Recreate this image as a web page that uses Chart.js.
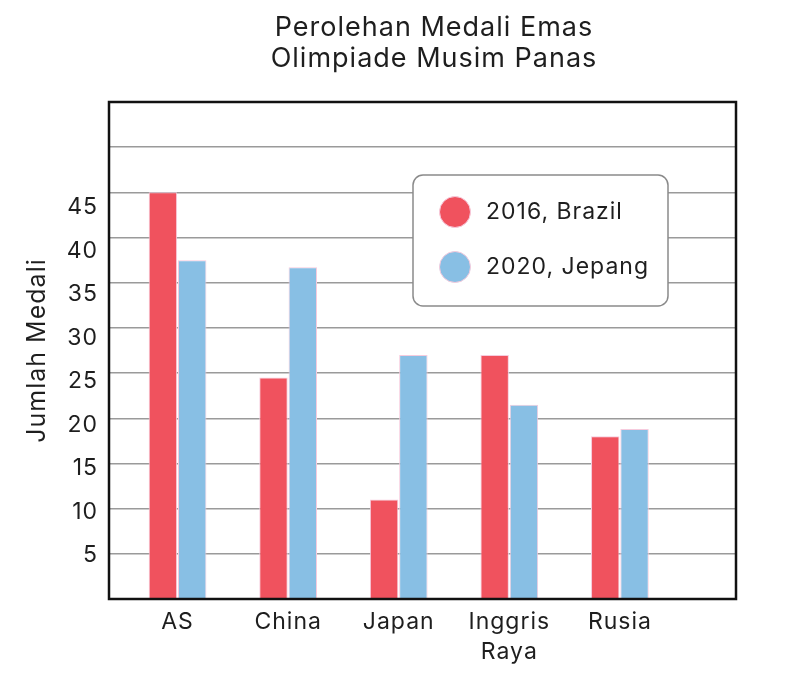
<!DOCTYPE html>
<html>
<head>
<meta charset="utf-8">
<script src="https://cdn.jsdelivr.net/npm/chart.js@4"></script>
<style>
  html, body { margin: 0; padding: 0; background: #fff; }
  #wrap { width: 800px; height: 678px; }
</style>
</head>
<body>
<div id="wrap"><canvas id="medalChart" width="800" height="678"></canvas></div>
<script>
// Data
const countries = ['AS', 'China', 'Japan', ['Inggris', 'Raya'], 'Rusia'];
const gold2016 = [45, 24.5, 11, 27, 18];
const gold2020 = [37.5, 36.7, 27, 21.5, 18.8];
const seriesNames = ['2016, Brazil', '2020, Jepang'];
const yTicks = [5, 10, 15, 20, 25, 30, 35, 40, 45];
const titleLines = ['Perolehan Medali Emas', 'Olimpiade Musim Panas'];

const FONT = "Inter, sans-serif";
const RED = '#F0525E';
const BLUE = '#88BFE4';
const EDGE = '#F6CBDD';

// The reference lettering is a little wider than Inter, so open it up
const spacingPlugin = {
    id: 'letterSpacing',
    beforeDraw(chart) {
        chart.ctx.letterSpacing = '1px';
    }
};

// Title drawn above the plot box, centred on it
const titlePlugin = {
    id: 'twoLineTitle',
    afterDraw(chart) {
        const ctx = chart.ctx;
        ctx.save();
        ctx.letterSpacing = '1px';
        ctx.fillStyle = '#1e1e1e';
        ctx.font = '27px ' + FONT;
        ctx.textAlign = 'center';
        ctx.textBaseline = 'alphabetic';
        titleLines.forEach((line, i) => ctx.fillText(line, 434, 36 + i * 31));
        ctx.restore();
    }
};

// Black frame round the plot area
const framePlugin = {
    id: 'frame',
    afterDatasetsDraw(chart) {
        const { left, top, right, bottom } = chart.chartArea;
        const ctx = chart.ctx;
        ctx.save();
        ctx.strokeStyle = '#111';
        ctx.lineWidth = 2.5;
        ctx.strokeRect(left, top, right - left, bottom - top);
        ctx.restore();
    }
};

// Legend box inside the plot
const legendPlugin = {
    id: 'boxLegend',
    afterDraw(chart) {
        const ctx = chart.ctx;
        const x = 413, y = 175, w = 255, h = 131, r = 10;
        ctx.save();
        ctx.beginPath();
        ctx.roundRect(x, y, w, h, r);
        ctx.fillStyle = '#fff';
        ctx.fill();
        ctx.strokeStyle = '#8a8a8a';
        ctx.lineWidth = 1.5;
        ctx.stroke();
        chart.data.datasets.forEach((ds, i) => {
            const cy = y + 37 + i * 55;
            ctx.beginPath();
            ctx.arc(x + 42, cy, 15.5, 0, Math.PI * 2);
            ctx.fillStyle = ds.backgroundColor;
            ctx.fill();
            ctx.strokeStyle = EDGE;
            ctx.lineWidth = 1;
            ctx.stroke();
            ctx.letterSpacing = '1px';
            ctx.fillStyle = '#1e1e1e';
            ctx.font = '23px ' + FONT;
            ctx.textAlign = 'left';
            ctx.textBaseline = 'middle';
            ctx.fillText(ds.label, x + 73, cy);
        });
        ctx.restore();
    }
};

new Chart(document.getElementById('medalChart'), {
    type: 'bar',
    data: {
        datasets: [
            {
                label: seriesNames[0],
                data: gold2016.map((v, i) => ({ x: i, y: v })),
                backgroundColor: RED,
                borderColor: EDGE,
                borderWidth: 1
            },
            {
                label: seriesNames[1],
                data: gold2020.map((v, i) => ({ x: i, y: v })),
                backgroundColor: BLUE,
                borderColor: EDGE,
                borderWidth: 1
            }
        ]
    },
    options: {
        responsive: false,
        animation: false,
        categoryPercentage: 0.53,
        barPercentage: 0.97,
        layout: { padding: { left: 14, right: 64, top: 102, bottom: 0 } },
        plugins: {
            legend: { display: false },
            title: { display: false },
            tooltip: { enabled: false }
        },
        scales: {
            x: {
                type: 'linear',
                offset: false,
                min: -0.62,
                max: 5.05,
                afterBuildTicks: scale => {
                    scale.ticks = countries.map((c, i) => ({ value: i }));
                },
                afterFit: scale => { scale.height = 79; },
                grid: { display: false, drawTicks: false },
                border: { display: false },
                ticks: {
                    padding: 8,
                    color: '#1e1e1e',
                    font: { family: FONT, size: 23, lineHeight: 1.3 },
                    maxRotation: 0,
                    autoSkip: false,
                    callback: value => countries[value]
                }
            },
            // scale used by the bars and the grid lines
            y: {
                min: 0,
                max: 55,
                afterBuildTicks: scale => {
                    scale.ticks = [0].concat(yTicks, [50, 55]).map(v => ({ value: v }));
                },
                afterFit: scale => { scale.width = 0; },
                grid: {
                    drawTicks: false,
                    color: ctx => (ctx.tick.value === 0 || ctx.tick.value === 55) ? 'rgba(0,0,0,0)' : '#9a9a9a',
                    lineWidth: 1.5
                },
                border: { display: false },
                ticks: { display: false }
            },
            // label axis: the printed numbers sit a little tighter than the grid
            yLabels: {
                position: 'left',
                min: 0,
                max: 57.1,
                afterBuildTicks: scale => {
                    scale.ticks = yTicks.map(v => ({ value: v }));
                },
                afterFit: scale => { scale.width = 95; },
                grid: { display: false, drawTicks: false },
                border: { display: false },
                ticks: {
                    padding: 11,
                    color: '#1e1e1e',
                    font: { family: FONT, size: 23 }
                },
                title: {
                    display: true,
                    text: 'Jumlah Medali',
                    color: '#1e1e1e',
                    font: { family: FONT, size: 25 },
                    padding: { top: 8, bottom: 0 }
                }
            }
        }
    },
    plugins: [spacingPlugin, titlePlugin, framePlugin, legendPlugin]
});
</script>
</body>
</html>
